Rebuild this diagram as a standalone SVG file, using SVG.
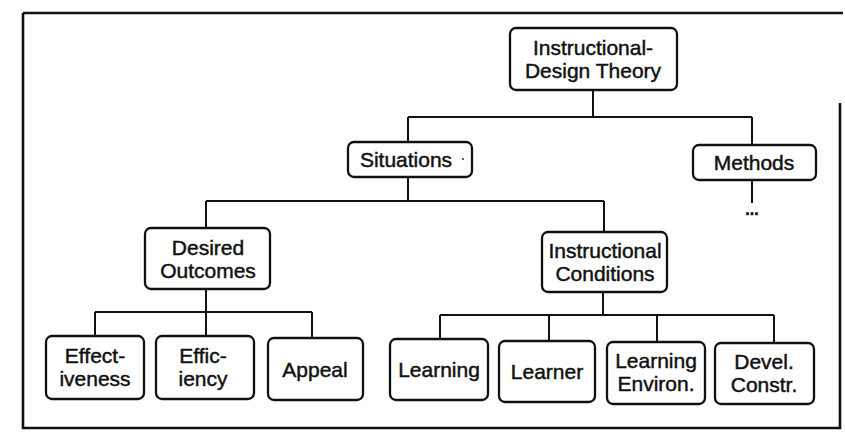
<svg xmlns="http://www.w3.org/2000/svg" width="845" height="434" viewBox="0 0 845 434">
<style>
.box{fill:#fff;stroke:#111;stroke-width:2.3}
.t{font-family:"Liberation Sans",Arial,sans-serif;font-size:21px;fill:#111;stroke:#111;stroke-width:0.45;text-anchor:middle}
.c{fill:none;stroke:#111;stroke-width:2}
.frame{fill:none;stroke:#111;stroke-width:2.6}
</style>
<rect width="845" height="434" fill="#fff"/>
<g id="frame">
<path class="frame" d="M23 13 H843 M23 13 V428 H840 V103"/>
</g>
<g id="connectors">
<path class="c" d="M593 90 V117 M408 117 H752 M408 117 V142 M752 117 V145"/>
<path class="c" d="M752 180 V203"/>
<path class="c" d="M408 177 V201 M206 201 H604 M206 201 V228 M604 201 V232"/>
<path class="c" d="M206 289 V336 M95 312 H312 M95 312 V336 M312 312 V338"/>
<path class="c" d="M603 292 V315 M440 315 H774 M440 315 V339 M549 315 V341 M657 315 V342 M774 315 V343"/>
</g>
<g id="theory">
<rect class="box" x="510" y="28" width="167" height="62" rx="6"/>
<text class="t" x="593" y="55">Instructional-</text>
<text class="t" x="593" y="78">Design Theory</text>
</g>
<g id="situations">
<rect class="box" x="348" y="142" width="124" height="35" rx="6"/>
<text class="t" x="406" y="167">Situations</text>
<circle cx="463" cy="159" r="1" fill="#333"/>
</g>
<g id="methods">
<rect class="box" x="693" y="145" width="123" height="35" rx="6"/>
<text class="t" x="754" y="170">Methods</text>
<text class="t" x="752" y="215" style="font-size:16px;font-weight:bold">...</text>
</g>
<g id="desired-outcomes">
<rect class="box" x="145" y="228" width="125" height="61" rx="6"/>
<text class="t" x="208" y="255">Desired</text>
<text class="t" x="208" y="278">Outcomes</text>
</g>
<g id="instructional-conditions">
<rect class="box" x="542" y="232" width="125" height="60" rx="6"/>
<text class="t" x="605" y="258">Instructional</text>
<text class="t" x="605" y="281">Conditions</text>
</g>
<g id="effectiveness">
<rect class="box" x="46" y="336" width="98" height="63" rx="6"/>
<text class="t" x="95" y="363">Effect-</text>
<text class="t" x="95" y="386">iveness</text>
</g>
<g id="efficiency">
<rect class="box" x="156" y="336" width="98" height="63" rx="6"/>
<text class="t" x="203" y="363">Effic-</text>
<text class="t" x="203" y="386">iency</text>
</g>
<g id="appeal">
<rect class="box" x="268" y="338" width="95" height="62" rx="6"/>
<text class="t" x="315" y="377">Appeal</text>
</g>
<g id="learning">
<rect class="box" x="390" y="339" width="98" height="61" rx="6"/>
<text class="t" x="439" y="377">Learning</text>
</g>
<g id="learner">
<rect class="box" x="499" y="341" width="96" height="61" rx="6"/>
<text class="t" x="547" y="379">Learner</text>
</g>
<g id="learning-environ">
<rect class="box" x="607" y="342" width="98" height="62" rx="6"/>
<text class="t" x="656" y="368">Learning</text>
<text class="t" x="656" y="391">Environ.</text>
</g>
<g id="devel-constr">
<rect class="box" x="715" y="343" width="99" height="61" rx="6"/>
<text class="t" x="764" y="369">Devel.</text>
<text class="t" x="764" y="392">Constr.</text>
</g>
</svg>
